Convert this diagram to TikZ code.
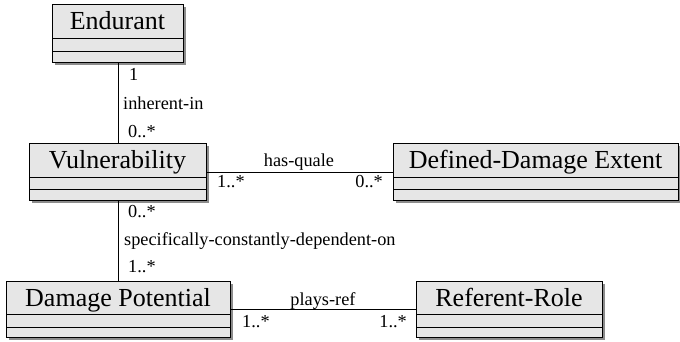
\documentclass[tikz,border=0pt]{standalone}
\usepackage{fontspec}
\setmainfont{Liberation Serif}
\newfontfamily\lserif{Liberation Serif}
\begin{document}
\begin{tikzpicture}[x=1pt,y=-1pt,
  clsbox/.style={draw=black, line width=1pt, fill=boxfill, inner sep=0pt, anchor=north west},
  ctitle/.style={inner sep=0pt, anchor=base, font=\lserif\fontsize{26}{30}\selectfont},
  lbl/.style={inner sep=0pt, font=\lserif\fontsize{18.3}{22}\selectfont},
  conn/.style={draw=black, line width=0.9pt},
  divider/.style={draw=black, line width=0.9pt}]
\definecolor{boxfill}{HTML}{E6E6E6}
\definecolor{shadowgray}{HTML}{8C8C8C}
\useasboundingbox (0,0) rectangle (680,341);
\fill[white] (0,0) rectangle (680,341);

% Endurant: x 52-183, y 4-62
\fill[shadowgray] (54.5,6.5) rectangle (185.5,64.5);
\node[clsbox, minimum width=131pt, minimum height=58pt] (end) at (52,4) {};
\node[ctitle] (endt) at (117.5,29.5) {Endurant};
\draw[divider] (52,38) -- (183,38) (52,51) -- (183,51);

% Vulnerability: x 29-206, y 143-200
\fill[shadowgray] (31.5,145.5) rectangle (208.5,202.5);
\node[clsbox, minimum width=177pt, minimum height=57pt] (vul) at (29,143) {};
\node[ctitle] (vult) at (117.5,168) {Vulnerability};
\draw[divider] (29,177) -- (206,177) (29,189) -- (206,189);

% Defined-Damage Extent: x 393-678, y 143-200
\fill[shadowgray] (395.5,145.5) rectangle (680.5,202.5);
\node[clsbox, minimum width=285pt, minimum height=57pt] (dde) at (393,143) {};
\node[ctitle] (ddet) at (535.5,168) {Defined-Damage Extent};
\draw[divider] (393,177) -- (678,177) (393,189) -- (678,189);

% Damage Potential: x 6-230, y 281-337
\fill[shadowgray] (8.5,283.5) rectangle (232.5,339.5);
\node[clsbox, minimum width=224pt, minimum height=56pt] (dp) at (6,281) {};
\node[ctitle] (dpt) at (118,306) {Damage Potential};
\draw[divider] (6,314) -- (230,314) (6,327) -- (230,327);

% Referent-Role: x 416-602, y 281-337
\fill[shadowgray] (418.5,283.5) rectangle (604.5,339.5);
\node[clsbox, minimum width=186pt, minimum height=56pt] (rr) at (416,281) {};
\node[ctitle] (rrt) at (509,306) {Referent-Role};
\draw[divider] (416,314) -- (602,314) (416,327) -- (602,327);

% connectors
\coordinate (hq) at (300,172);
\coordinate (pr) at (320,309);
\draw[conn] (end.south) -- (end.south |- vul.north);
\draw[conn] (end.south |- vul.south) -- (end.south |- dp.north);
\draw[conn] (vul.east |- hq) -- (dde.west |- hq);
\draw[conn] (dp.east |- pr) -- (rr.west |- pr);

% labels
\node[lbl, anchor=base west] (l1) at (129,80) {1};
\node[lbl, anchor=base west] (l2) at (123,109) {inherent-in};
\node[lbl, anchor=base west] (l3) at (128,137) {0..*};

\node[lbl, anchor=base west] (l4) at (128,217) {0..*};
\node[lbl, anchor=base west] (l5) at (124,245) {specifically-constantly-dependent-on};
\node[lbl, anchor=base west] (l6) at (128,272) {1..*};

\node[lbl, anchor=base] (l7) at (299,166) {has-quale};
\node[lbl, anchor=base west] (l8) at (217,187) {1..*};
\node[lbl, anchor=base east] (l9) at (383,187) {0..*};

\node[lbl, anchor=base] (l10) at (323,305) {plays-ref};
\node[lbl, anchor=base west] (l11) at (242,327) {1..*};
\node[lbl, anchor=base east] (l12) at (407,327) {1..*};
\end{tikzpicture}
\end{document}
